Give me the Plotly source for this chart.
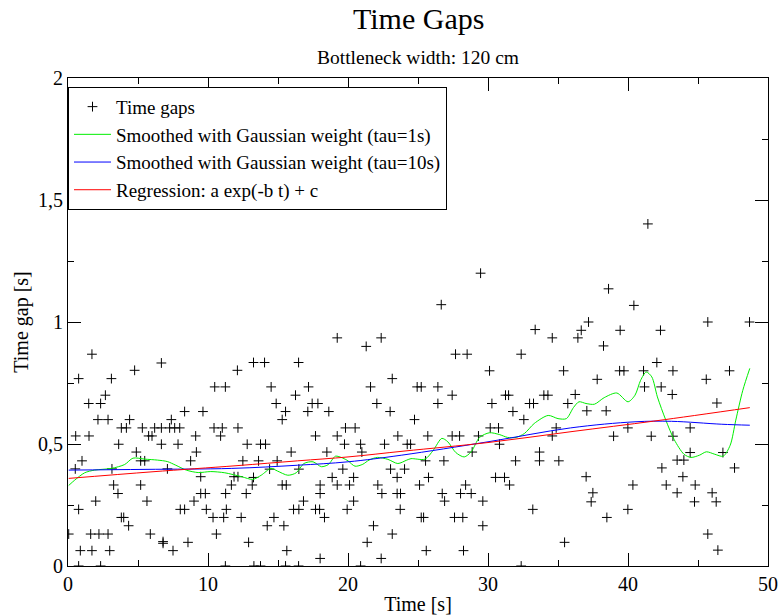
import plotly.graph_objects as go

# ---- data ----
gap_t = [
 1.71, 6.67, 4.76, 12.10, 0.76, 3.10, 10.48, 11.24, 2.67, 1.48, 2.33, 8.33, 9.64,
 2.14, 2.86, 4.40, 7.38, 3.81, 4.17, 5.31, 6.19, 6.67, 7.26, 7.62, 7.98, 10.43, 11.02, 12.14,
 0.55, 1.50, 5.76, 6.00, 9.12, 10.90, 3.62, 6.67, 7.86, 4.88, 9.17, 1.00, 5.19, 5.48, 8.76,
 0.52, 3.14, 7.10, 9.48, 11.86, 12.14, 3.26, 5.19, 11.67, 3.57, 9.48, 9.81, 11.26,
 1.98, 5.64, 9.00, 0.76, 8.02, 8.33, 9.88, 11.31, 3.81, 3.98, 10.36, 11.12, 4.33,
 0.05, 1.62, 2.21, 2.86, 5.88, 10.60, 6.79, 6.79, 8.57, 0.88, 1.71, 2.98, 7.50,
 0.76, 2.33, 11.24,
 19.23, 22.37, 21.30, 13.25, 14.04, 16.47, 23.16, 14.51, 17.18, 21.61, 16.25,
 14.87, 17.44, 17.85, 22.06, 15.54, 17.13, 18.63, 23.01, 15.30, 19.82, 20.51,
 17.68, 19.23, 23.56, 12.80, 13.75, 14.11, 19.75, 20.90, 22.61, 15.94, 18.49, 20.99,
 12.49, 13.61, 14.94, 14.40, 16.49, 19.63, 23.04, 13.25, 18.87, 20.40, 23.51,
 13.16, 15.30, 15.59, 18.01, 19.23, 20.11, 22.13, 12.73, 18.01, 22.42, 23.51, 23.75,
 16.82, 20.40, 16.11, 16.49, 17.68, 17.97, 19.94, 23.73, 12.37, 14.71, 18.32,
 14.23, 15.42, 21.82, 23.16, 12.90, 21.37, 15.63, 18.01, 22.37,
 13.28, 13.75, 15.54, 16.47, 20.90,
 29.47, 26.66, 33.37, 34.59, 27.68, 28.51, 32.37, 30.11, 35.40, 24.94, 25.23, 26.42,
 27.44, 31.25, 31.47, 33.99, 34.28, 26.42, 30.28, 32.97, 33.25, 35.70, 31.78,
 24.75, 32.56, 30.16, 30.75, 34.87, 25.70, 27.44, 27.97, 29.32, 34.59,
 24.23, 24.47, 30.82, 28.87, 33.68, 25.54, 26.85, 31.97, 33.68, 35.06, 24.04,
 25.75, 30.54, 31.18, 25.11, 28.40, 31.54, 26.73, 28.04, 28.80, 26.90, 29.63,
 33.20, 25.23, 25.40, 27.61, 28.20, 29.63, 35.47, 25.59, 28.25, 32.37,
 41.42, 38.61, 40.42, 37.18, 45.70, 48.68, 36.66, 39.44, 42.32, 36.42, 38.25,
 42.06, 39.40, 39.71, 41.11, 43.21, 47.25, 37.80, 45.59, 41.18, 42.37, 36.23,
 43.16, 46.35, 37.06, 38.44, 39.99, 44.44, 38.97, 41.66, 43.21, 44.44, 46.78,
 43.51, 43.99, 42.42, 47.61, 37.01, 43.92, 40.35, 42.73, 44.80, 37.49, 43.51,
 46.01, 37.37, 44.75, 46.30, 39.99, 38.49, 45.70, 46.42,
]
gap_v = [
 0.868, 0.832, 0.802, 0.802, 0.768, 0.768, 0.734, 0.734, 0.700, 0.666, 0.666, 0.633, 0.633,
 0.600, 0.600, 0.600, 0.600, 0.566, 0.566, 0.566, 0.566, 0.566, 0.566, 0.566, 0.566, 0.566, 0.566, 0.566,
 0.533, 0.533, 0.533, 0.533, 0.533, 0.533, 0.499, 0.499, 0.499, 0.467, 0.467, 0.431, 0.431, 0.431, 0.431,
 0.398, 0.398, 0.398, 0.366, 0.366, 0.366, 0.332, 0.332, 0.332, 0.297, 0.297, 0.297, 0.297,
 0.266, 0.266, 0.266, 0.232, 0.232, 0.232, 0.232, 0.232, 0.199, 0.199, 0.199, 0.199, 0.165,
 0.131, 0.131, 0.131, 0.131, 0.131, 0.131, 0.100, 0.093, 0.097, 0.063, 0.063, 0.063, 0.063,
 0.0, 0.0, 0.0,
 0.935, 0.935, 0.900, 0.834, 0.834, 0.834, 0.768, 0.734, 0.734, 0.734, 0.700,
 0.666, 0.666, 0.666, 0.666, 0.633, 0.633, 0.633, 0.633, 0.600, 0.566, 0.566,
 0.533, 0.533, 0.533, 0.499, 0.499, 0.499, 0.499, 0.499, 0.499, 0.467, 0.467, 0.467,
 0.431, 0.431, 0.431, 0.397, 0.397, 0.397, 0.397, 0.363, 0.363, 0.363, 0.363,
 0.332, 0.332, 0.332, 0.332, 0.332, 0.332, 0.332, 0.297, 0.297, 0.297, 0.297, 0.297,
 0.266, 0.266, 0.232, 0.232, 0.232, 0.232, 0.232, 0.232, 0.199, 0.199, 0.199,
 0.165, 0.165, 0.165, 0.131, 0.097, 0.097, 0.063, 0.031, 0.031,
 0.0, 0.0, 0.0, 0.0, 0.0,
 1.200, 1.071, 0.969, 0.935, 0.868, 0.868, 0.868, 0.800, 0.800, 0.734, 0.734, 0.734,
 0.700, 0.700, 0.700, 0.700, 0.700, 0.666, 0.666, 0.666, 0.666, 0.666, 0.633,
 0.600, 0.600, 0.566, 0.566, 0.566, 0.533, 0.533, 0.533, 0.533, 0.533,
 0.499, 0.499, 0.499, 0.467, 0.467, 0.431, 0.431, 0.431, 0.431, 0.431, 0.397,
 0.363, 0.363, 0.363, 0.332, 0.332, 0.332, 0.297, 0.297, 0.297, 0.266, 0.266,
 0.232, 0.199, 0.199, 0.199, 0.199, 0.165, 0.097, 0.063, 0.063, 0.0,
 1.402, 1.136, 1.068, 1.000, 1.000, 1.000, 0.966, 0.966, 0.966, 0.935, 0.902,
 0.834, 0.800, 0.800, 0.800, 0.800, 0.800, 0.765, 0.765, 0.734, 0.734, 0.703,
 0.703, 0.668, 0.636, 0.636, 0.566, 0.566, 0.532, 0.532, 0.532, 0.465, 0.465,
 0.434, 0.434, 0.402, 0.402, 0.366, 0.366, 0.332, 0.332, 0.332, 0.300, 0.300,
 0.300, 0.263, 0.263, 0.263, 0.232, 0.199, 0.131, 0.065,
]

green_t = [0.05, 0.48, 1.19, 1.9, 3.1, 4.05, 4.64, 5.48, 6.4, 7.1, 7.7, 8.45, 9.3, 10.2, 11.2,
           12.4, 13.2, 13.8, 14.5, 14.97, 15.7, 16.3, 16.85, 17.5, 18.1, 18.6, 19.1, 19.6, 20.0,
           20.5, 21.06, 21.5, 22.1, 22.85, 23.56, 24.2, 24.5, 25.5, 26.1, 26.7, 27.13, 27.7, 28.3,
           28.8, 29.4, 30.1, 30.8, 31.4, 32.0, 32.6, 33.3, 34.3, 35.0, 35.6, 36.1, 36.5, 37.0,
           37.6, 38.3, 39.2, 40.0, 40.5, 40.9, 41.3, 41.7, 42.1, 42.7, 43.3, 44.0, 44.5, 45.1,
           45.6, 46.2, 46.8, 47.3, 47.7, 48.2, 48.7]
green_v = [0.33, 0.352, 0.382, 0.393, 0.40, 0.416, 0.442, 0.438, 0.434, 0.428, 0.413, 0.393, 0.383,
           0.387, 0.382, 0.366, 0.355, 0.372, 0.40, 0.389, 0.372, 0.382, 0.42, 0.427, 0.407, 0.416,
           0.45, 0.443, 0.431, 0.409, 0.417, 0.434, 0.445, 0.437, 0.42, 0.434, 0.44, 0.438, 0.475,
           0.523, 0.509, 0.465, 0.447, 0.468, 0.527, 0.546, 0.539, 0.527, 0.527, 0.543, 0.584,
           0.617, 0.604, 0.604, 0.649, 0.673, 0.666, 0.663, 0.69, 0.709, 0.673, 0.70, 0.761,
           0.795, 0.775, 0.693, 0.598, 0.518, 0.458, 0.445, 0.454, 0.468, 0.458, 0.45, 0.495,
           0.598, 0.72, 0.81]

blue_t = [0.05, 5.5, 11.7, 16.4, 20.0, 23.8, 30.0, 35.9, 40.5, 43.1, 46.7, 48.7]
blue_v = [0.393, 0.396, 0.40, 0.413, 0.427, 0.454, 0.509, 0.566, 0.591, 0.593, 0.581, 0.577]

red_t = [0.05, 6.0, 12.0, 16.4, 20.0, 24.0, 30.0, 36.0, 42.0, 48.7]
red_v = [0.359, 0.386, 0.411, 0.431, 0.447, 0.471, 0.506, 0.551, 0.595, 0.649]

x_ticks = [0, 10, 20, 30, 40, 50]
y_ticks = [0, 0.5, 1, 1.5, 2]
y_ticklabels = ["0", "0,5", "1", "1,5", "2"]

FONT = "Liberation Serif, Times New Roman, serif"

fig = go.Figure()
fig.add_trace(go.Scatter(
    x=gap_t, y=gap_v, mode="markers", name="Time gaps",
    marker=dict(symbol="cross-thin", size=7, color="black", line=dict(color="black", width=1))))
fig.add_trace(go.Scatter(
    x=green_t, y=green_v, mode="lines", name="Smoothed with Gaussian weight (tau=1s)",
    line=dict(color="#00ee00", width=1, shape="spline", smoothing=0.8)))
fig.add_trace(go.Scatter(
    x=blue_t, y=blue_v, mode="lines", name="Smoothed with Gaussian weight (tau=10s)",
    line=dict(color="#0000ff", width=1, shape="spline")))
fig.add_trace(go.Scatter(
    x=red_t, y=red_v, mode="lines", name="Regression: a exp(-b t) + c",
    line=dict(color="#ff0000", width=1, shape="spline")))

axis_common = dict(
    showline=True, linecolor="black", linewidth=1, mirror="ticks",
    ticks="inside", ticklen=13, tickcolor="black", tickwidth=1,
    showgrid=False, zeroline=False, automargin=False,
    tickfont=dict(family=FONT, size=20, color="black"),
)

fig.update_xaxes(range=[0, 50], tickvals=x_ticks,
                 minor=dict(dtick=5, ticks="inside", ticklen=6, tickcolor="black", showgrid=False),
                 title=dict(text="Time [s]", font=dict(family=FONT, size=20, color="black"), standoff=2),
                 **axis_common)
fig.update_yaxes(range=[0, 2], tickvals=y_ticks, ticktext=y_ticklabels,
                 minor=dict(dtick=0.25, ticks="inside", ticklen=6, tickcolor="black", showgrid=False),
                 title=dict(text="Time gap [s]", font=dict(family=FONT, size=20, color="black"), standoff=4),
                 **axis_common)

fig.update_layout(
    width=779, height=616,
    margin=dict(l=68, r=11, t=78, b=50),
    plot_bgcolor="white", paper_bgcolor="white",
    font=dict(family=FONT, color="black"),
    separators=", ",
    showlegend=True,
    legend=dict(x=0, y=0.982, xanchor="left", yanchor="top",
                bordercolor="black", borderwidth=1, bgcolor="white",
                font=dict(family=FONT, size=19, color="black"),
                traceorder="normal", itemwidth=37),
    annotations=[
        dict(text="Time Gaps", x=0.5, y=1.121, xref="paper", yref="paper",
             showarrow=False, font=dict(family=FONT, size=30, color="black"),
             xanchor="center", yanchor="middle"),
        dict(text="Bottleneck width: 120 cm", x=0.5, y=1.041, xref="paper", yref="paper",
             showarrow=False, font=dict(family=FONT, size=19.5, color="black"),
             xanchor="center", yanchor="middle"),
    ],
)

fig.write_html("out.html",
               config={"displayModeBar": False},
               post_script="document.body.style.margin='0px'; document.body.style.padding='0px';")
